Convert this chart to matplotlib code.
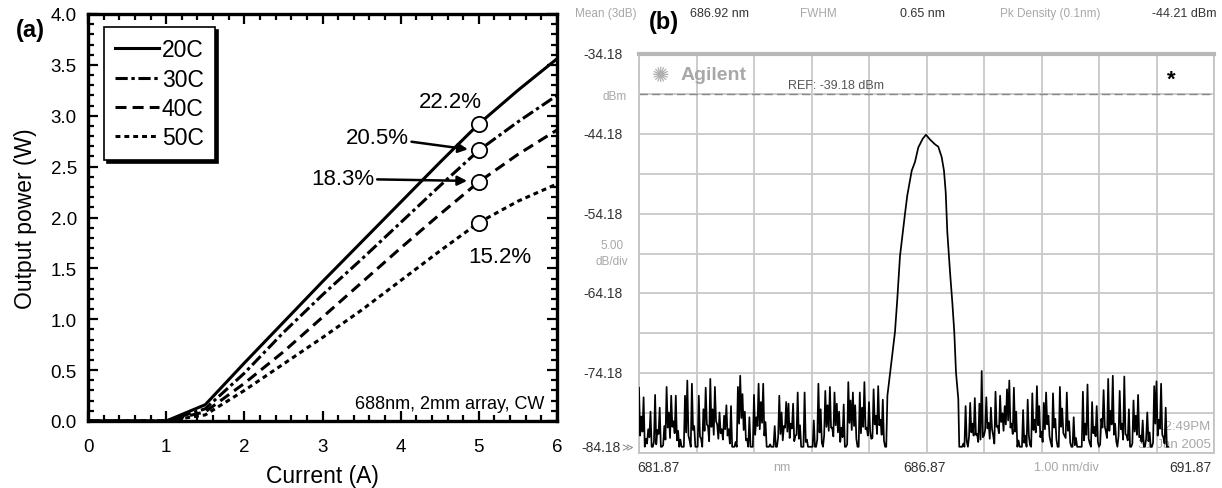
import numpy as np
import matplotlib
matplotlib.use("Agg")
import matplotlib.pyplot as plt

plt.rcParams['font.family'] = ['Liberation Sans', 'DejaVu Sans']

# ---------------- data: panel (a) L-I curves ----------------
current_A = [0.0, 0.5, 1.0, 1.5, 2.0, 2.5, 3.0, 3.5, 4.0, 4.5, 5.0, 5.5, 6.0]
power_20C = [0.0, 0.0, 0.0, 0.16, 0.57, 0.97, 1.37, 1.76, 2.15, 2.54, 2.92, 3.25, 3.56]
power_30C = [0.0, 0.0, 0.0, 0.12, 0.47, 0.87, 1.24, 1.59, 1.95, 2.31, 2.66, 2.94, 3.20]
power_40C = [0.0, 0.0, 0.0, 0.09, 0.37, 0.68, 1.02, 1.36, 1.70, 2.03, 2.35, 2.62, 2.86]
power_50C = [0.0, 0.0, 0.0, 0.06, 0.30, 0.56, 0.82, 1.09, 1.38, 1.67, 1.95, 2.16, 2.33]
series_labels = ['20C', '30C', '40C', '50C']
efficiency_labels = ['22.2%', '20.5%', '18.3%', '15.2%']
eff_current = 5.0

# ---------------- data: panel (b) optical spectrum ----------------
wl_start, wl_stop = 681.87, 691.87
ref_level, db_per_div = -34.18, 5.0
noise_step_nm = 0.02
noise_left_start = 681.87
noise_left_db = [
    -76.0, -82.0, -79.6, -81.5, -77.2, -83.4, -82.4, -83.0, -81.2, -82.2, -79.0, -83.4,
    -83.4, -82.8, -76.9, -83.1, -81.3, -81.8, -78.5, -83.4, -83.4, -83.2, -80.8, -82.5,
    -75.9, -81.0, -79.1, -82.3, -77.0, -80.9, -80.2, -81.7, -77.0, -82.6, -81.4, -83.4,
    -82.5, -83.4, -83.4, -83.4, -77.0, -81.6, -75.1, -82.0, -82.6, -83.4, -75.5, -81.3,
    -80.8, -83.4, -83.4, -83.4, -77.0, -82.1, -82.4, -83.4, -78.7, -81.4, -76.0, -80.6,
    -80.8, -82.7, -74.9, -80.9, -78.7, -81.9, -75.9, -80.2, -80.6, -82.4, -79.1, -81.7,
    -81.2, -82.5, -79.5, -81.2, -78.2, -82.0, -81.2, -83.0, -78.3, -83.4, -83.4, -83.4,
    -82.8, -83.4, -75.9, -80.5, -74.5, -79.8, -76.8, -81.3, -79.0, -82.6, -82.4, -83.4,
    -79.7, -83.4, -83.4, -83.4, -76.9, -81.9, -79.7, -80.8, -75.5, -81.2, -77.8, -80.4,
    -75.5, -82.0, -80.3, -83.4, -83.4, -83.4, -83.1, -83.4, -83.4, -83.4, -80.8, -83.4,
    -83.4, -82.2, -77.0, -81.8, -79.1, -82.6, -80.8, -81.0, -77.8, -81.5, -78.0, -82.3,
    -80.5, -81.1, -78.0, -82.7, -82.0, -81.9, -76.6, -82.4, -80.7, -83.4, -83.4, -83.4,
    -76.6, -82.8, -82.5, -83.4, -83.4, -83.4, -83.4, -83.4, -80.1, -83.4, -83.4, -82.5,
    -75.5, -81.6, -78.7, -82.9, -83.4, -82.0, -76.4, -80.9, -78.2, -81.4, -75.9, -81.0,
    -81.0, -82.1, -76.6, -80.7, -78.0, -81.6, -79.0, -82.8, -81.0, -82.2, -78.1, -83.4,
    -83.4, -83.1, -75.3, -80.4, -77.6, -81.3, -76.6, -80.8, -78.2, -82.4, -83.4, -83.4,
    -76.6, -81.7, -78.5, -80.9, -75.3, -81.2, -81.0, -82.0, -77.8, -81.5, -82.4, -82.3,
    -76.2, -80.6, -79.5, -81.8, -75.8, -80.7, -80.0, -81.9, -77.5, -82.6, -83.4]
peak_wl = [686.17, 686.19, 686.235, 686.322, 686.362, 686.409, 686.496, 686.536,
           686.613, 686.67, 686.727, 686.804, 686.861, 686.931, 687.018, 687.075,
           687.134, 687.174, 687.204, 687.232, 687.279, 687.319, 687.353, 687.383,
           687.423, 687.44]
peak_db = [-83.4, -77.0, -74.3, -69.0, -64.9, -59.5, -54.2, -51.9,
           -48.8, -47.7, -45.9, -44.8, -44.3, -44.9, -45.5, -45.8,
           -47.1, -48.8, -51.5, -56.5, -61.5, -65.3, -69.0, -74.1,
           -77.4, -83.4]
noise_right_start = 687.47
noise_right_db = [
    -83.4, -83.4, -83.0, -83.4, -78.3, -82.7, -83.4, -82.1, -77.9, -81.6, -80.5, -82.0,
    -77.3, -81.9, -81.8, -82.8, -78.0, -82.5, -73.9, -82.2, -82.0, -81.3, -77.2, -81.1,
    -80.4, -82.4, -78.5, -81.2, -82.0, -83.0, -76.5, -80.9, -80.8, -81.7, -77.0, -80.3,
    -79.2, -81.4, -78.3, -80.6, -76.2, -80.1, -75.1, -81.0, -80.5, -81.8, -76.0, -81.5,
    -79.0, -83.4, -82.6, -83.4, -83.4, -83.4, -78.8, -82.9, -82.0, -83.4, -77.5, -82.0,
    -83.2, -83.4, -76.7, -81.3, -80.0, -81.6, -75.8, -80.7, -78.3, -82.2, -81.5, -82.8,
    -77.9, -81.2, -76.6, -80.6, -79.5, -82.1, -82.8, -83.4, -76.7, -81.0, -79.9, -82.5,
    -83.4, -83.4, -75.9, -80.9, -78.6, -81.7, -82.0, -82.3, -76.6, -81.4, -80.2, -82.9,
    -83.4, -83.4, -79.7, -83.2, -82.3, -83.4, -83.4, -83.4, -83.4, -83.4, -76.5, -82.6,
    -80.5, -81.9, -75.6, -82.4, -83.0, -83.4, -77.8, -81.7, -80.9, -82.1, -78.3, -82.8,
    -83.4, -83.1, -79.9, -81.0, -76.3, -80.8, -81.5, -82.3, -74.9, -81.4, -78.9, -80.6,
    -74.5, -81.9, -80.5, -82.7, -83.4, -82.0, -76.4, -81.2, -80.5, -82.5, -74.6, -81.8,
    -82.0, -82.6, -78.7, -83.4, -83.4, -83.0, -77.6, -81.5, -79.5, -81.9, -76.9, -82.2,
    -82.0, -82.8, -80.1, -83.4, -83.4, -82.4, -79.1, -82.7, -81.6, -83.4, -83.4, -82.9,
    -75.8, -80.5, -75.2, -82.0, -80.0, -81.1, -75.5, -81.9, -82.2, -83.0, -78.5, -83.4,
    -83.4]

W, H = 1222, 489
fig = plt.figure(figsize=(W / 100, H / 100), dpi=100)

def fx(px):
    return px / W

def fy(py):
    return 1 - py / H

# ================= panel (a) =================
ax1 = fig.add_axes([fx(88), fy(422), (557 - 88) / W, (422 - 15) / H])
styles = ['-', (0, (4, 1.2, 1.1, 1.2)), (0, (3.6, 2.0)), (0, (1.6, 1.3))]
all_power = [power_20C, power_30C, power_40C, power_50C]
for p, ls, lab in zip(all_power, styles, series_labels):
    ax1.plot(current_A, p, color='black', lw=2.2, linestyle=ls, label=lab)

idx5 = current_A.index(eff_current)
for p in all_power:
    ax1.plot([eff_current], [p[idx5]], marker='o', ms=11, mfc='white', mec='black',
             mew=1.3, zorder=5, linestyle='none')

ax1.set_xlim(0, 6)
ax1.set_ylim(0, 4)
ax1.set_xticks(range(0, 7))
ax1.set_yticks(np.arange(0, 4.01, 0.5))
ax1.set_yticklabels([f'{v:.1f}' for v in np.arange(0, 4.01, 0.5)])
ax1.set_xticks(np.arange(0, 6.01, 0.2), minor=True)
ax1.set_yticks(np.arange(0, 4.01, 0.1), minor=True)
ax1.tick_params(which='both', direction='in', top=True, right=True, labelsize=13.5,
                width=1.6, color='black')
ax1.tick_params(which='major', length=7)
ax1.tick_params(axis='y', which='major', pad=8)
ax1.tick_params(axis='x', which='major', pad=12)
ax1.tick_params(which='minor', length=4)
for s in ax1.spines.values():
    s.set_linewidth(2.4)
ax1.set_xlabel('Current (A)', fontsize=16.5, labelpad=7)
ax1.set_ylabel('Output power (W)', fontsize=16.5, labelpad=10)

leg = ax1.legend(loc='upper left', bbox_to_anchor=(fx(104), fy(28)),
                 bbox_transform=fig.transFigure, borderaxespad=0, fontsize=16.5,
                 frameon=True, fancybox=False, edgecolor='black', framealpha=1,
                 handlelength=1.9, handletextpad=0.12, labelspacing=0.27,
                 borderpad=0.5,
                 shadow={'facecolor': 'black', 'edgecolor': 'black', 'alpha': 1})
leg.get_frame().set_linewidth(1.2)

afs = 16
ax1.text(4.63, 3.14, efficiency_labels[0], fontsize=afs, ha='center', va='center')
ax1.annotate(efficiency_labels[1], xy=(4.86, 2.67), xytext=(3.70, 2.79), fontsize=afs,
             ha='center', va='center',
             arrowprops=dict(arrowstyle='-|>', color='black', lw=1.8, shrinkA=0,
                             shrinkB=0, mutation_scale=14))
ax1.annotate(efficiency_labels[2], xy=(4.85, 2.36), xytext=(3.26, 2.38), fontsize=afs,
             ha='center', va='center',
             arrowprops=dict(arrowstyle='-|>', color='black', lw=1.8, shrinkA=0,
                             shrinkB=0, mutation_scale=14))
ax1.text(5.27, 1.62, efficiency_labels[3], fontsize=afs, ha='center', va='center')
ax1.text(5.84, 0.17, '688nm, 2mm array, CW', fontsize=13, ha='right', va='center')

fig.text(fx(30), fy(31), '(a)', fontsize=17, fontweight='bold', ha='center', va='center')

# ================= panel (b) =================
ax2 = fig.add_axes([fx(639), fy(454), (1214 - 639) / W, (454 - 55) / H])
wl_left = noise_left_start + noise_step_nm * np.arange(len(noise_left_db))
wl_right = noise_right_start + noise_step_nm * np.arange(len(noise_right_db))
wl_all = np.concatenate([wl_left, peak_wl, wl_right])
db_all = np.concatenate([noise_left_db, peak_db, noise_right_db])
ax2.plot(wl_all, db_all, color='black', lw=1.25, zorder=3)

ax2.set_xlim(wl_start, wl_stop)
ax2.set_ylim(ref_level - 10 * db_per_div, ref_level)
ax2.set_xticks(wl_start + np.arange(0, 11) * 1.0)
ax2.set_yticks(ref_level - db_per_div * np.arange(0, 11))
ax2.grid(True, color='#c8c8c8', lw=1.3)
ax2.tick_params(length=0, labelbottom=False, labelleft=False)
for s in ax2.spines.values():
    s.set_color('#c4c4c4')
    s.set_linewidth(1.3)
ax2.spines['top'].set_linewidth(3.0)
ax2.spines['top'].set_color('#b8b8b8')
ax2.axhline(ref_level - db_per_div, color='#888888', lw=1.0, ls=(0, (6, 3)), zorder=2)

dark = '#333333'
light = '#a8a8a8'
yt = ax2.get_yaxis_transform()
for k in range(0, 11, 2):
    v = ref_level - db_per_div * k
    yoff = 0.7 if k == 10 else 0.0
    xpos = -0.032 if k == 10 else -0.028
    ax2.text(xpos, v + yoff, f'{v:.2f}', transform=yt, ha='right', va='center',
             fontsize=10, color=dark)
ax2.text(-0.031, ref_level - 10 * db_per_div + 0.75, '\u226b', transform=yt,
         ha='left', va='center', fontsize=8, color='#888888',
         family=['DejaVu Sans'])
ax2.text(-0.042, ref_level - 1.0 * db_per_div - 0.3, 'dBm', transform=yt, ha='center',
         va='center', fontsize=8.5, color=light)
ax2.text(-0.047, ref_level - 4.78 * db_per_div, '5.00', transform=yt, ha='center',
         va='center', fontsize=8.5, color=light)
ax2.text(-0.047, ref_level - 5.2 * db_per_div, 'dB/div', transform=yt, ha='center',
         va='center', fontsize=8.5, color=light)

ax2.text(-0.0035, -0.035, f'{wl_start:.2f}', transform=ax2.transAxes, ha='left',
         va='center', fontsize=10, color=dark)
ax2.text(0.249, -0.035, 'nm', transform=ax2.transAxes, ha='center', va='center',
         fontsize=9, color=light)
ax2.text(0.4957, -0.035, f'{(wl_start + wl_stop) / 2:.2f}', transform=ax2.transAxes,
         ha='center', va='center', fontsize=10, color=dark)
ax2.text(0.744, -0.035, '1.00 nm/div', transform=ax2.transAxes, ha='center',
         va='center', fontsize=9, color=light)
ax2.text(0.9965, -0.035, f'{wl_stop:.2f}', transform=ax2.transAxes, ha='right',
         va='center', fontsize=10, color=dark)

# time stamp (partly behind trace)
ax2.text(0.995, 0.067, '12:49PM', transform=ax2.transAxes, ha='right', va='center',
         fontsize=9.5, color=light, zorder=1)
ax2.text(0.995, 0.022, '31 Jan 2005', transform=ax2.transAxes, ha='right',
         va='center', fontsize=9.5, color=light, zorder=1)

# logo, REF and marker
fig.text(fx(661), fy(76), '\u273a', fontsize=15, color='#b0b0b0', ha='center',
         va='center', family=['DejaVu Sans'])
fig.text(fx(681), fy(76), 'Agilent', fontsize=14, fontweight='bold', color='#a8a8a8',
         ha='left', va='center')
fig.text(fx(788), fy(86), 'REF: -39.18 dBm', fontsize=9, color='#555555',
         ha='left', va='center')
fig.text(fx(1171), fy(80), '*', fontsize=16, fontweight='bold', color='black',
         ha='center', va='center')

# header row
hy = fy(14)
fig.text(fx(575), hy, 'Mean (3dB)', fontsize=8.5, color=light, ha='left', va='center')
fig.text(fx(690), hy, '686.92 nm', fontsize=9, color=dark, ha='left', va='center')
fig.text(fx(800), hy, 'FWHM', fontsize=8.5, color=light, ha='left', va='center')
fig.text(fx(900), hy, '0.65 nm', fontsize=9, color=dark, ha='left', va='center')
fig.text(fx(1000), hy, 'Pk Density (0.1nm)', fontsize=8.5, color=light, ha='left',
         va='center')
fig.text(fx(1217), hy, '-44.21 dBm', fontsize=9, color=dark, ha='right', va='center')
fig.text(fx(664), fy(22), '(b)', fontsize=17, fontweight='bold', ha='center',
         va='center')

fig.savefig('out.png', dpi=100)
